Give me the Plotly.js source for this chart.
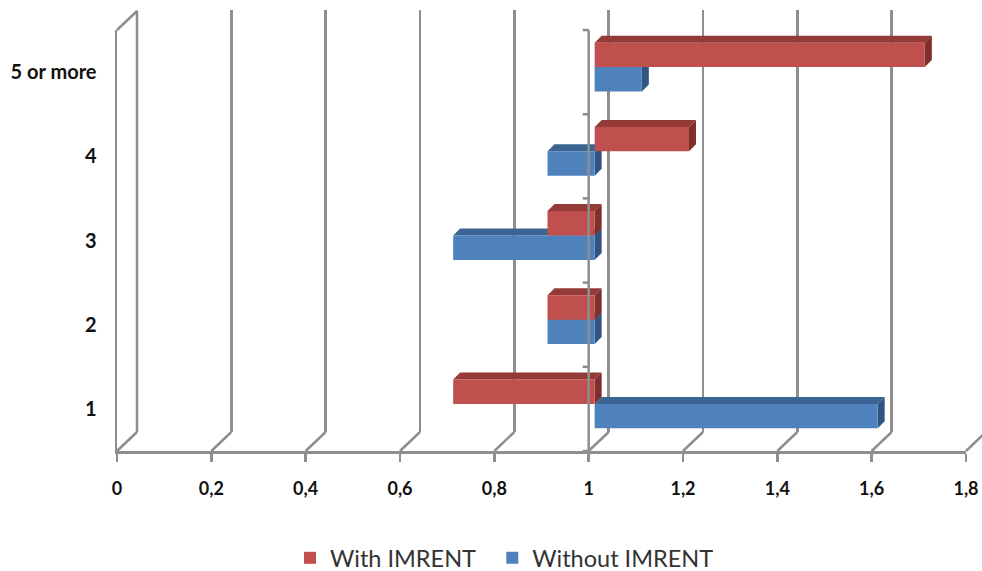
<!DOCTYPE html>
<html>
<head>
<meta charset="utf-8">
<script src="https://cdn.plot.ly/plotly-3.0.1.min.js"></script>
<style>html,body{margin:0;padding:0;background:#fff}#c{width:982px;height:571px}</style>
</head>
<body>
<div id="c"></div>
<script>
const categories = ['1', '2', '3', '4', '5 or more'];
const withImrent = [0.7, 0.9, 0.9, 1.2, 1.7];
const withoutImrent = [1.6, 0.9, 0.7, 0.9, 1.1];
const baseline = 1;
const gridTicks = [0, 0.2, 0.4, 0.6, 0.8, 1, 1.2, 1.4, 1.6, 1.8];

const W = 982, H = 571;
const LEFT = 117, RIGHT = 966, TOP = 30, BOTTOM = 451;
const pxX = 849 / 1.8, pxY = (BOTTOM - TOP) / 5;
const fx = p => p / W, fy = p => 1 - p / H;
const GREY = '#8e8e8e';
const LINEW = 2.5;
const BARGAP = 0.42, halfBand = (1 - BARGAP) / 2;
const depthX = 7 / pxX, depthY = 7 / pxY;
const wallX = 20 / pxX, wallY = 19 / pxY;
const pos = categories.map((_, i) => i);

function faces(values, lowEdge) {
  const top = {x: [], y: []}, side = {x: [], y: []};
  values.forEach((v, i) => {
    const lo = Math.min(v, baseline), hi = Math.max(v, baseline);
    const b = i + lowEdge, t = b + halfBand;
    top.x.push(lo, hi, hi + depthX, lo + depthX, lo, null);
    top.y.push(t, t, t + depthY, t + depthY, t, null);
    side.x.push(hi, hi, hi + depthX, hi + depthX, hi, null);
    side.y.push(b, t, t + depthY, b + depthY, b, null);
  });
  return [top, side];
}
function faceTrace(f, color) {
  return {type: 'scatter', mode: 'lines', x: f.x, y: f.y, xaxis: 'x2', yaxis: 'y2', fill: 'toself',
    fillcolor: color, line: {width: 0, color: color}, showlegend: false, hoverinfo: 'skip'};
}
const [blueTop, blueSide] = faces(withoutImrent, -halfBand);
const [redTop, redSide] = faces(withImrent, 0);

// floor connectors, wall outline and the axis line at the crossing value
const floorX = [], floorY = [];
gridTicks.forEach(v => { floorX.push(v, v + wallX, null); floorY.push(-0.5, -0.5 + wallY, null); });
floorX.push(0, wallX, wallX, null); floorY.push(4.5, 4.5 + wallY, -0.5 + wallY, null);
const crossX = [baseline, baseline, null], crossY = [-0.5, 4.5, null];
for (let k = 0; k <= 5; k++) { crossX.push(baseline, baseline - 6 / pxX, null); crossY.push(k - 0.5, k - 0.5, null); }

const data = [
  {type: 'scatter', mode: 'lines', x: [0], y: [0], xaxis: 'x', yaxis: 'y', line: {width: 0}, showlegend: false, hoverinfo: 'skip'},
  faceTrace(blueTop, '#3A6491'), faceTrace(blueSide, '#2F5580'),
  faceTrace(redTop, '#943B38'), faceTrace(redSide, '#7F302E'),
  {type: 'bar', orientation: 'h', name: 'Without IMRENT', y: pos, x: withoutImrent.map(v => v - baseline), base: baseline,
    xaxis: 'x3', yaxis: 'y3', marker: {color: '#4F81BD'}},
  {type: 'bar', orientation: 'h', name: 'With IMRENT\u00A0\u00A0', y: pos, x: withImrent.map(v => v - baseline), base: baseline,
    xaxis: 'x3', yaxis: 'y3', marker: {color: '#C0504D'}},
  {type: 'scatter', mode: 'lines', x: [0], y: [0], xaxis: 'x4', yaxis: 'y4', line: {width: 0}, showlegend: false, hoverinfo: 'skip'},
  {type: 'scatter', mode: 'lines', x: floorX, y: floorY, xaxis: 'x5', yaxis: 'y5',
    line: {color: GREY, width: LINEW}, showlegend: false, hoverinfo: 'skip'},
  {type: 'scatter', mode: 'lines', x: crossX, y: crossY, xaxis: 'x5', yaxis: 'y5',
    line: {color: GREY, width: LINEW}, showlegend: false, hoverinfo: 'skip'}
];

const hidden = {visible: false, fixedrange: true};
const xTickFont = {family: 'Lato', size: 18, color: '#111', weight: 700};
const yTickFont = {family: 'Lato', size: 20, color: '#111', weight: 700};
const layout = {
  width: W, height: H, showlegend: true,
  paper_bgcolor: '#fff', plot_bgcolor: 'rgba(0,0,0,0)',
  margin: {l: 0, r: 0, t: 0, b: 0, pad: 0, autoexpand: false},
  separators: ', ', barmode: 'group', bargap: BARGAP, bargroupgap: 0,
  xaxis: {domain: [fx(LEFT + 20), 1], range: [0, (W - LEFT - 20) / pxX], tick0: 0, dtick: 0.2, showgrid: true,
    gridcolor: GREY, gridwidth: LINEW, zeroline: false, showline: false, ticks: '', showticklabels: false, anchor: 'y', fixedrange: true},
  yaxis: {domain: [fy(BOTTOM - 19), fy(10)], range: [0, 1], visible: false, anchor: 'x', fixedrange: true},
  xaxis2: Object.assign({domain: [fx(LEFT + 6), fx(RIGHT + 6)], range: [0, 1.8], anchor: 'y2'}, hidden),
  yaxis2: Object.assign({domain: [fy(BOTTOM - 5), fy(TOP - 5)], range: [-0.5, 4.5], anchor: 'x2'}, hidden),
  xaxis3: Object.assign({domain: [fx(LEFT + 6), fx(RIGHT + 6)], range: [0, 1.8], anchor: 'y3'}, hidden),
  yaxis3: Object.assign({domain: [fy(BOTTOM - 5), fy(TOP - 5)], range: [-0.5, 4.5], anchor: 'x3'}, hidden),
  xaxis4: {domain: [fx(LEFT), fx(RIGHT)], range: [0, 1.8], anchor: 'y4', tickmode: 'array', tickvals: gridTicks,
    showgrid: false, zeroline: false, showline: true, linecolor: GREY, linewidth: LINEW,
    ticks: 'outside', ticklen: 8, tickwidth: LINEW, tickcolor: GREY, tickfont: xTickFont, ticklabelstandoff: 12, fixedrange: true},
  yaxis4: {domain: [fy(BOTTOM), fy(TOP)], range: [-0.5, 4.5], anchor: 'x4', tickmode: 'array', tickvals: pos, ticktext: categories,
    showgrid: false, zeroline: false, showline: true, linecolor: GREY, linewidth: LINEW,
    ticks: '', tickfont: yTickFont, ticklabelstandoff: 14, fixedrange: true},
  xaxis5: Object.assign({domain: [0, 1], range: [-LEFT / pxX, (W - LEFT) / pxX], anchor: 'y5'}, hidden),
  yaxis5: Object.assign({domain: [0, 1], range: [-0.5 - (H - BOTTOM) / pxY, -0.5 + BOTTOM / pxY], anchor: 'x5'}, hidden),
  legend: {orientation: 'h', traceorder: 'reversed', x: fx(290), xanchor: 'left', y: fy(558), yanchor: 'middle',
    font: {family: 'Lato', size: 23.5, color: '#333'}, bgcolor: 'rgba(0,0,0,0)', borderwidth: 0}
};
Plotly.newPlot('c', data, layout, {displayModeBar: false, staticPlot: true});
</script>
</body>
</html>
